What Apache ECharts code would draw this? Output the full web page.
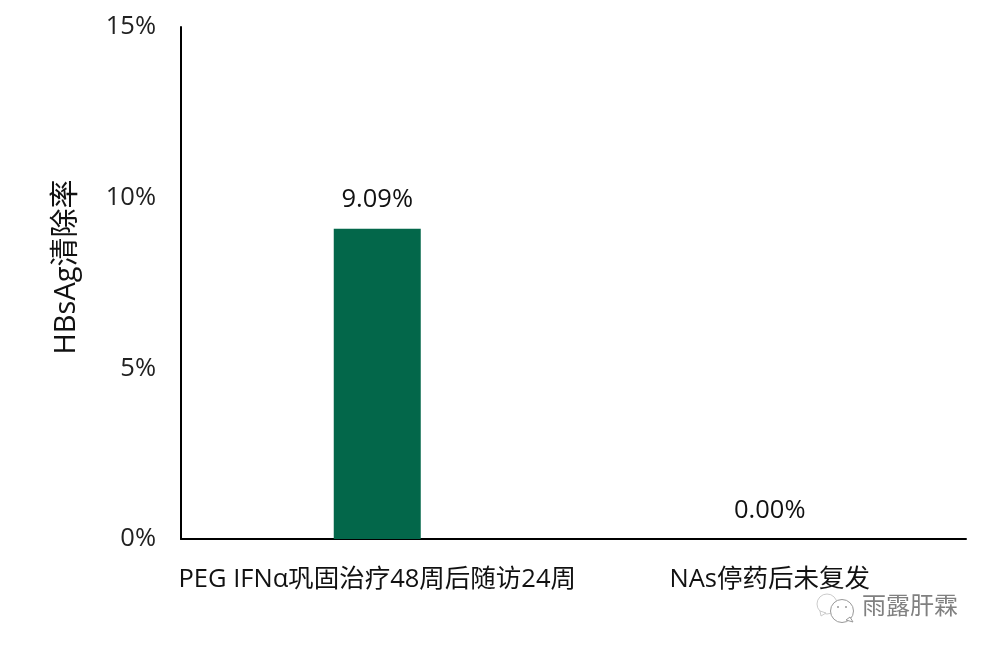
<!DOCTYPE html>
<html><head><meta charset="utf-8">
<style>html,body{margin:0;padding:0;background:#fff}#c{width:989px;height:650px}</style>
<script src="https://cdn.jsdelivr.net/npm/echarts@6/dist/echarts.min.js"></script>
</head><body><div id="c"></div>
<script>
const categories = ['PEG IFNα巩固治疗48周后随访24周', 'NAs停药后未复发'];
const values = [9.09, 0];
const yTicks = [0, 5, 10, 15];
const yTitle = 'HBsAg清除率';
const watermark = '雨露肝霖';
const font = '"Open Sans","Noto Sans CJK SC",sans-serif';
const chart = echarts.init(document.getElementById('c'));
const bubble = {fill:'#fff',stroke:'#999',lineWidth:1};
chart.setOption({
  animation:false,
  backgroundColor:'#fff',
  grid:{left:181,right:23,top:27,bottom:111},
  xAxis:{type:'category',data:categories,
    axisLine:{lineStyle:{color:'#000',width:2}},axisTick:{show:false},
    axisLabel:{color:'#111',fontSize:25.5,fontFamily:font,margin:28,interval:0}},
  yAxis:{type:'value',min:0,max:15,interval:5,
    name:yTitle,nameLocation:'middle',nameGap:100,nameRotate:90,
    nameTextStyle:{color:'#111',fontSize:29,fontFamily:font,padding:[0,0,0,32]},
    splitLine:{show:false},
    axisLine:{show:true,lineStyle:{color:'#000',width:2}},axisTick:{show:false},
    axisLabel:{color:'#222',fontSize:25.5,fontFamily:font,margin:25,formatter:v=>yTicks.includes(v)?v+'%':''}},
  series:[{type:'bar',data:values,barWidth:87,itemStyle:{color:'#03674A'},
    label:{show:true,position:'top',distance:16,color:'#111',fontSize:25.5,fontFamily:font,formatter:p=>p.value.toFixed(2)+'%'}}],
  graphic:[
    {type:'text',left:862,top:593,style:{text:watermark,fill:'#808080',font:'24px "Noto Sans CJK SC"'}},
    {type:'circle',shape:{cx:827,cy:604,r:10},style:{...bubble,stroke:'#ccc'}},
    {type:'polygon',shape:{points:[[820,611],[821,616],[826,613]]},style:{...bubble,stroke:'#ccc'}},
    {type:'circle',shape:{cx:842,cy:611,r:11.5},style:bubble},
    {type:'polygon',shape:{points:[[846,620],[853,622],[850,617]]},style:bubble},
    {type:'circle',shape:{cx:838,cy:607,r:1},style:{fill:'#999'}},
    {type:'circle',shape:{cx:846,cy:607,r:1},style:{fill:'#999'}}
  ]
});
</script></body></html>
